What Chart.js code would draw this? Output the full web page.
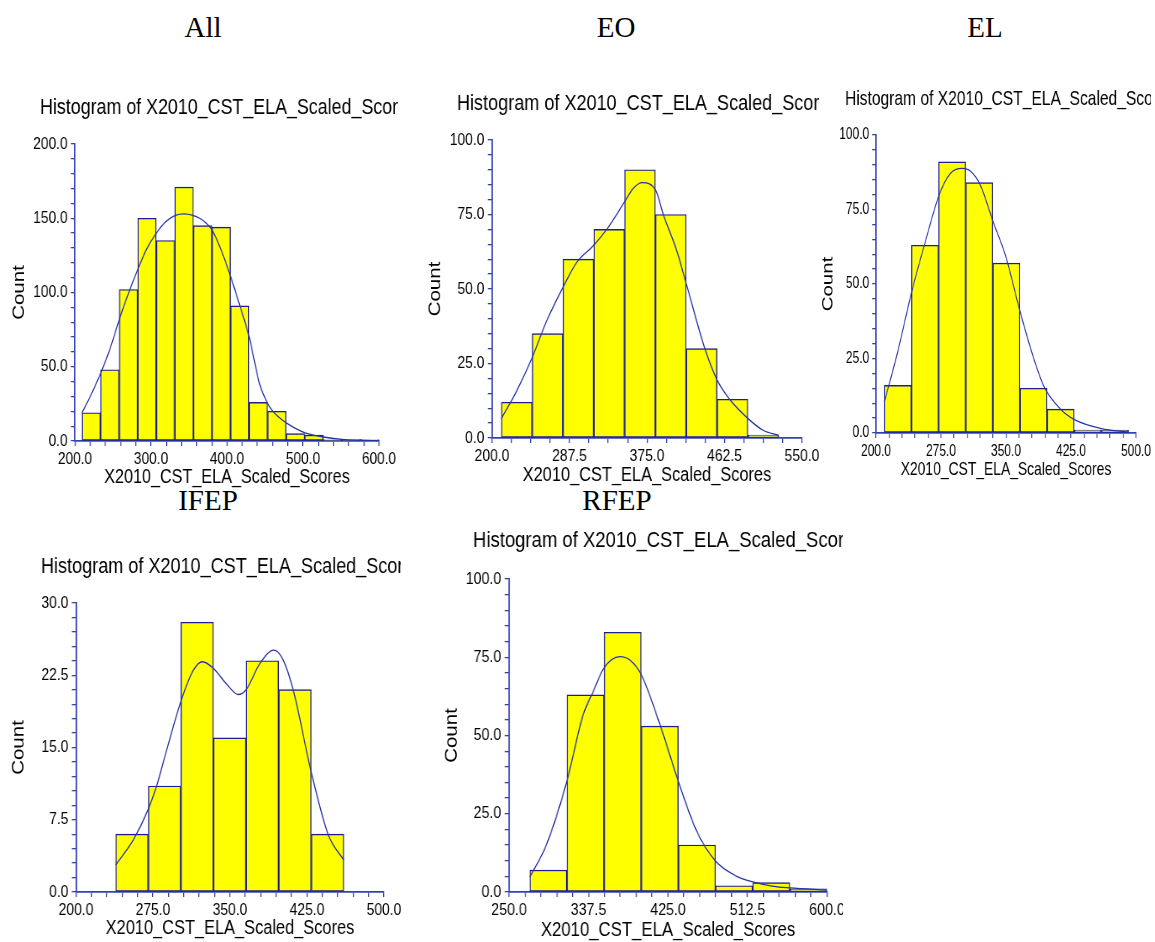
<!DOCTYPE html>
<html>
<head>
<meta charset="utf-8">
<title>X2010 CST ELA Scaled Scores</title>
<script src="https://cdn.jsdelivr.net/npm/chart.js@4.4.1/dist/chart.umd.min.js"></script>
<style>
  html, body { margin: 0; padding: 0; background: #fff; overflow: hidden; }
  body { width: 1155px; height: 942px; position: relative; }
  .group {
    position: absolute;
    font-family: 'Liberation Serif', 'Times New Roman', serif;
    font-size: 29px;
    line-height: 29px;
    color: #000;
    white-space: nowrap;
    transform: translateX(-50%);
  }
  .clip { position: absolute; overflow: hidden; }
  .clip canvas { position: absolute; left: 0; top: 0; transform-origin: 0 0; }
</style>
</head>
<body>
<div class="group" style="left:203px; top:13px">All</div>
<div class="group" style="left:616px; top:13px">EO</div>
<div class="group" style="left:985px; top:13px">EL</div>
<div class="group" style="left:208px; top:486px">IFEP</div>
<div class="group" style="left:617px; top:486px">RFEP</div>

<script>
// All students: bin edges, counts and density trace
const allEdges = [209.2, 233.6, 258.1, 282.5, 306.9, 331.3, 355.8, 380.2, 404.6, 429.0, 453.4, 477.9, 502.3, 526.7, 551.2, 575.6, 600.0];
const allCounts = [19, 48, 102, 150, 135, 171, 145, 144, 91, 26, 20, 5, 4, 1, 1, 1];
const allCurveX = [209.2, 220, 234, 246, 258.4, 270, 283, 294, 307, 320, 332, 343.6, 355, 364, 372, 380.4, 392, 404.6, 417, 429.2, 436, 443, 450, 456, 466, 478.5, 490, 502.6, 515, 526.7, 551.6, 575, 600];
const allCurveY = [19, 30, 46, 62, 82, 99, 116, 129, 140, 148, 152, 153, 152, 150, 147, 142, 129, 111, 91, 70, 54, 38, 29, 23, 17, 12, 8.5, 5.5, 3.8, 2.7, 1.1, 0.5, 0.2];
const allXTicks = [200, 300, 400, 500, 600];
const allYTicks = [0, 50, 100, 150, 200];

// EO
const eoEdges = [210.5, 245.3, 280.1, 314.9, 349.7, 384.5, 419.3, 454.1, 488.9, 523.7];
const eoCounts = [12, 35, 60, 70, 90, 75, 30, 13, 1];
const eoCurveX = [210.5, 228.2, 245.4, 262, 280.4, 295.8, 314.9, 329.5, 349.8, 359.6, 369.7, 384.7, 393.4, 408.4, 419.3, 440.3, 454.2, 468.5, 489.1, 506, 523.7];
const eoCurveY = [6.5, 16, 27, 39.5, 50.7, 59, 64.7, 70, 79.3, 83.8, 85.7, 83.2, 75, 63, 51.8, 30, 19.4, 12.9, 6.5, 2.6, 0.9];
const eoXTicks = [200, 287.5, 375, 462.5, 550];
const eoYTicks = [0, 25, 50, 75, 100];

// EL
const elEdges = [209.6, 240.9, 272.2, 303.5, 334.8, 366.1, 397.4, 428.7, 460.0, 491.3];
const elCounts = [16, 63, 91, 84, 57, 15, 8, 1, 1];
const elCurveX = [209.6, 225, 241.2, 256.9, 272.7, 285.8, 299.2, 308.8, 320.4, 335, 350, 366, 382, 394, 413, 429, 460, 491.3];
const elCurveY = [10.4, 27.2, 47.4, 64.2, 79.8, 87.1, 88.8, 87.9, 83.2, 71, 59, 41, 25, 15.5, 8, 4.5, 1.5, 0.3];
const elXTicks = [200, 275, 350, 425, 500];
const elYTicks = [0, 25, 50, 75, 100];

// IFEP
const ifepEdges = [238.6, 270.4, 302.1, 333.9, 365.6, 397.4, 429.1, 460.9];
const ifepCounts = [6, 11, 28, 16, 24, 21, 6];
const ifepCurveX = [238.6, 255.8, 270.4, 278.5, 288.2, 302.2, 314.2, 323.2, 333.9, 346.6, 357.9, 365.7, 379, 392.6, 401.7, 411.5, 429, 445.5, 460.9];
const ifepCurveY = [2.8, 5.4, 8.6, 11, 14.7, 19.8, 23, 23.9, 23.2, 21.6, 20.5, 21, 23.7, 25.1, 24.1, 21, 12.5, 6, 3.3];
const ifepXTicks = [200, 275, 350, 425, 500];
const ifepYTicks = [0, 7.5, 15, 22.5, 30];

// RFEP
const rfepEdges = [272.8, 313.7, 354.6, 395.5, 436.4, 477.3, 518.2, 559.1, 600.0];
const rfepCounts = [7, 63, 83, 53, 15, 2, 3, 1];
const rfepCurveX = [272.8, 291.2, 313.6, 331.6, 342.6, 354.4, 372, 383, 395.6, 416.2, 436.4, 456.6, 477.5, 500.7, 518.3, 541.1, 559.1, 600];
const rfepCurveY = [4.7, 15.1, 35.3, 56.6, 64, 71.5, 75.2, 74.1, 69.4, 53.4, 35.3, 19.4, 9.8, 5, 3.2, 1.8, 1.3, 0.6];
const rfepXTicks = [250, 337.5, 425, 512.5, 600];
const rfepYTicks = [0, 25, 50, 75, 100];

const SANS = "'Liberation Sans', Arial, sans-serif";
const AXIS = '#3343b0';
const EDGE = '#1c1c96';
const CURVE = '#2633a6';
const FILL = '#ffff00';

// page placement of each plot (px) and how much it is squeezed sideways
const panels = [
  { edges: allEdges, counts: allCounts, cx: allCurveX, cy: allCurveY, xTicks: allXTicks, xMinor: 20, yTicks: allYTicks, yMinor: 10,
    squeeze: 0.83, fonts: { title: 21.5, tick: 16.5, axis: 19.5, count: 20.5 },
    box: { left: 0, clip: 398, titleX: 40, titleY: 108, plotL: 75, plotT: 144, plotR: 379, plotB: 441, countX: 19, xTitleY: 477 } },
  { edges: eoEdges, counts: eoCounts, cx: eoCurveX, cy: eoCurveY, xTicks: eoXTicks, xMinor: 21.875, yTicks: eoYTicks, yMinor: 5,
    squeeze: 0.84, fonts: { title: 21.5, tick: 16.5, axis: 19.5, count: 20.5 },
    box: { left: 420, clip: 819, titleX: 457, titleY: 104, plotL: 492, plotT: 140, plotR: 802, plotB: 438, countX: 435, xTitleY: 475 } },
  { edges: elEdges, counts: elCounts, cx: elCurveX, cy: elCurveY, xTicks: elXTicks, xMinor: 15, yTicks: elYTicks, yMinor: 5,
    squeeze: 0.75, fonts: { title: 20.8, tick: 16, axis: 18.5, count: 20.5 },
    box: { left: 813, clip: 1151, titleX: 845, titleY: 99, plotL: 876, plotT: 135, plotR: 1136, plotB: 433, countX: 828, xTitleY: 470 } },
  { edges: ifepEdges, counts: ifepCounts, cx: ifepCurveX, cy: ifepCurveY, xTicks: ifepXTicks, xMinor: 15, yTicks: ifepYTicks, yMinor: 1.5,
    squeeze: 0.84, fonts: { title: 21.5, tick: 16.5, axis: 19.5, count: 20.5 },
    box: { left: 0, clip: 401, titleX: 41, titleY: 567, plotL: 76, plotT: 603, plotR: 384, plotB: 892, countX: 19, xTitleY: 928 } },
  { edges: rfepEdges, counts: rfepCounts, cx: rfepCurveX, cy: rfepCurveY, xTicks: rfepXTicks, xMinor: 17.5, yTicks: rfepYTicks, yMinor: 5,
    squeeze: 0.86, fonts: { title: 21.5, tick: 16.5, axis: 19.5, count: 20.5 },
    box: { left: 437, clip: 843, titleX: 473, titleY: 541, plotL: 509, plotT: 579, plotR: 827, plotB: 892, countX: 452, xTitleY: 930 } }
];

// the title is laid out from the left padding; start it where the heading begins instead
const titleAt = {
  id: 'titleAt',
  afterLayout(chart, args, opts) {
    const t = chart.titleBlock;
    if (!t) return;
    t.left = opts.x;
    t.right = opts.x + 2000;
  }
};

function onList(list, v) {
  return list.some(t => Math.abs(t - v) < 1e-6);
}

panels.forEach(p => {
  const b = p.box, k = p.squeeze, f = p.fonts;
  const titleLH = f.title * 1.2, axisLH = f.axis * 1.2, countLH = f.count * 1.2;
  const cx = x => (x - b.left) / k;

  const top = Math.round(b.titleY - titleLH / 2 - 4);
  const height = Math.round(b.xTitleY + axisLH / 2 + 2 - top);
  const clipW = b.clip - b.left;
  const width = Math.ceil(Math.max(cx(b.plotR) + 40, clipW / k + 4));

  const wrap = document.createElement('div');
  wrap.className = 'clip';
  Object.assign(wrap.style, { left: b.left + 'px', top: top + 'px', width: clipW + 'px', height: height + 'px' });
  const canvas = document.createElement('canvas');
  canvas.width = width;
  canvas.height = height;
  canvas.style.width = width + 'px';
  canvas.style.height = height + 'px';
  canvas.style.transform = 'scaleX(' + k + ')';
  wrap.appendChild(canvas);
  document.body.appendChild(wrap);

  const xMin = p.xTicks[0], xMax = p.xTicks[p.xTicks.length - 1];
  const yMax = p.yTicks[p.yTicks.length - 1];
  const bars = p.counts.map((c, i) => ({ x: (p.edges[i] + p.edges[i + 1]) / 2, y: c }));
  const curve = p.cx.map((x, i) => ({ x: x, y: p.cy[i] }));

  const tickGrid = { offset: false, drawOnChartArea: false, drawTicks: true, tickLength: 5, color: AXIS, lineWidth: 1.3 };

  new Chart(canvas, {
    type: 'bar',
    plugins: [titleAt],
    data: {
      datasets: [
        { type: 'line', data: curve, xAxisID: 'x', yAxisID: 'y', borderColor: CURVE, borderWidth: 1.3,
          pointRadius: 0, cubicInterpolationMode: 'monotone', fill: false, order: 0 },
        { type: 'bar', data: bars, xAxisID: 'xb', yAxisID: 'y', backgroundColor: FILL, borderColor: EDGE,
          borderWidth: 1.4, borderSkipped: false, grouped: false, barPercentage: 1, categoryPercentage: 1, order: 1 }
      ]
    },
    options: {
      responsive: false,
      animation: false,
      events: [],
      layout: { padding: { left: 0, right: width - cx(b.plotR), top: 0, bottom: 0 } },
      plugins: {
        legend: { display: false },
        tooltip: { enabled: false },
        titleAt: { x: cx(b.titleX) },
        title: {
          display: true,
          text: 'Histogram of X2010_CST_ELA_Scaled_Scores',
          align: 'start',
          color: '#000',
          font: { family: SANS, size: f.title, weight: 'normal' },
          padding: { top: b.titleY - top - titleLH / 2, bottom: b.plotT - (b.titleY + titleLH / 2) }
        }
      },
      scales: {
        x: {
          type: 'linear', position: 'bottom', min: xMin, max: xMax, offset: false,
          grid: tickGrid,
          border: { color: AXIS, width: 1.8 },
          ticks: {
            stepSize: p.xMinor, autoSkip: false, maxRotation: 0, padding: 4, color: '#000',
            font: { family: SANS, size: f.tick },
            callback: v => onList(p.xTicks, v) ? v.toFixed(1) : ''
          },
          title: { display: true, text: 'X2010_CST_ELA_Scaled_Scores', color: '#000',
            font: { family: SANS, size: f.axis }, padding: { top: 0, bottom: 2 } },
          afterFit: sc => { sc.height = top + height - b.plotB; }
        },
        // bars sit on their own hidden axis so the minor ticks don't narrow them
        xb: {
          type: 'linear', display: false, min: xMin, max: xMax, offset: false,
          grid: { offset: false }, ticks: { count: 2 }
        },
        y: {
          type: 'linear', position: 'left', min: 0, max: yMax,
          grid: tickGrid,
          border: { color: AXIS, width: 1.8 },
          ticks: {
            stepSize: p.yMinor, autoSkip: false, padding: 4, color: '#000',
            font: { family: SANS, size: f.tick },
            callback: v => onList(p.yTicks, v) ? v.toFixed(1) : ''
          },
          title: { display: true, text: 'Count', color: '#000',
            font: { family: SANS, size: f.count }, padding: { top: cx(b.countX) - countLH / 2, bottom: 0 } },
          afterFit: sc => { sc.width = cx(b.plotL); }
        }
      }
    }
  });
});
</script>
</body>
</html>
